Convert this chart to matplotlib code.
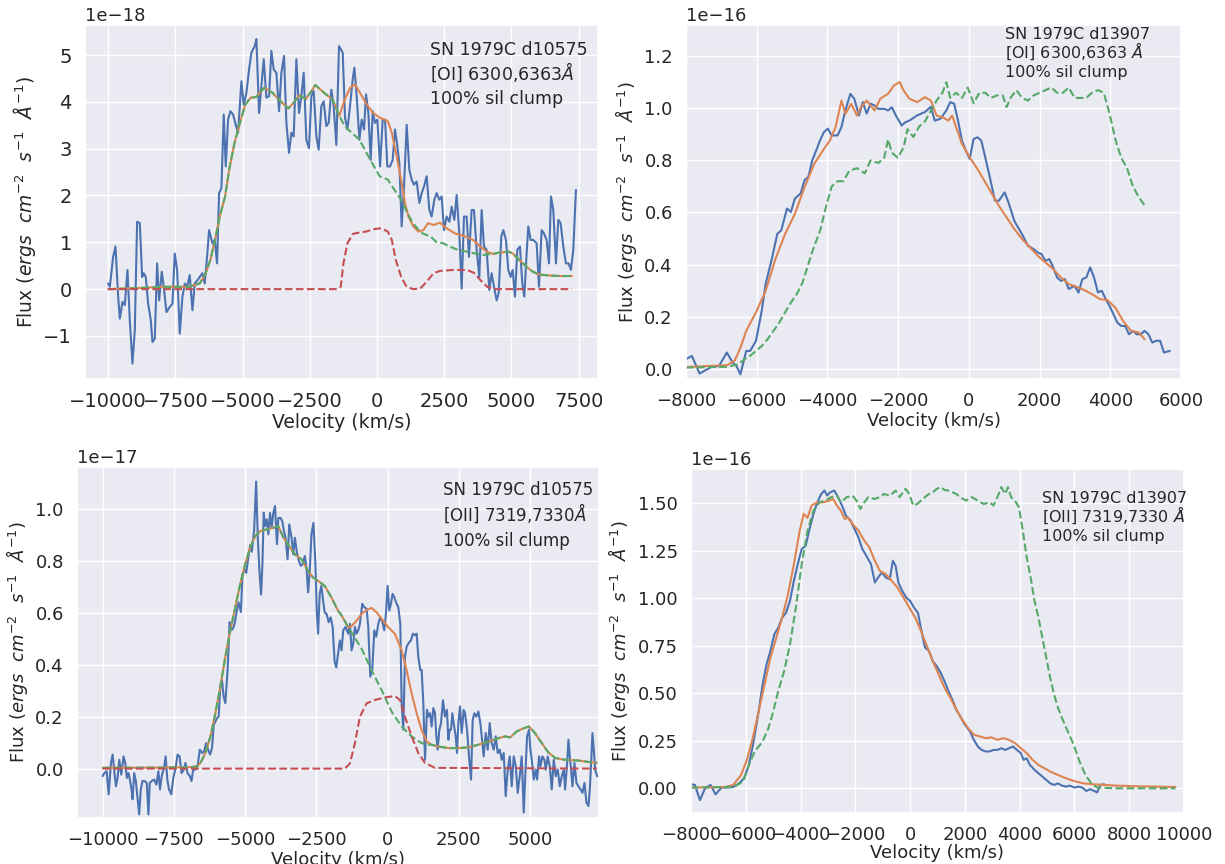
import numpy as np
import matplotlib
matplotlib.use('Agg')
import matplotlib.pyplot as plt
from matplotlib.ticker import MultipleLocator
import seaborn as sns

# ---- top left: [OI] d10575 (units 1e-18) ----
tl_obs_v = [-10000, -9938, -9814, -9727, -9628, -9566, -9467, -9380, -9281, -9195,
            -9096, -9009, -8922, -8823, -8736, -8674, -8600, -8513, -8414, -8352,
            -8265, -8179, -8104, -8005, -7918, -7832, -7708, -7609, -7522, -7435,
            -7336, -7237, -7150, -7064, -6965, -6865, -6779, -6679, -6593, -6494,
            -6407, -6320, -6246, -6122, -6035, -5949, -5874, -5787, -5701, -5626,
            -5540, -5453, -5354, -5255, -5168, -5044, -4957, -4858, -4759, -4672,
            -4548, -4486, -4387, -4301, -4214, -4115, -4016, -3929, -3842, -3743,
            -3644, -3557, -3458, -3371, -3272, -3186, -3099, -3000, -2901, -2814,
            -2727, -2628, -2529, -2442, -2355, -2256, -2170, -2071, -1984, -1885,
            -1798, -1699, -1612, -1513, -1414, -1276, -1189, -1102, -1004, -904,
            -842, -756, -656, -570, -483, -409, -322, -235, -161, -74,
            12, 112, 211, 298, 384, 483, 582, 669, 756, 830,
            917, 1004, 1103, 1202, 1289, 1375, 1475, 1574, 1661, 1747,
            1846, 1946, 2032, 2131, 2218, 2317, 2404, 2491, 2590, 2689,
            2776, 2875, 2962, 3061, 3148, 3234, 3333, 3420, 3519, 3606,
            3705, 3804, 3891, 3978, 4077, 4176, 4263, 4350, 4449, 4523,
            4622, 4697, 4796, 4882, 4969, 5044, 5131, 5217, 5316, 5403,
            5477, 5564, 5626, 5713, 5812, 5936, 6023, 6122, 6209, 6308,
            6395, 6469, 6556, 6655, 6742, 6828, 6927, 7026, 7125, 7212,
            7299, 7398]
tl_obs = [0.12, 0.05, 0.69, 0.91, -0.16, -0.63, -0.27, -0.34, 0.41, -0.66,
          -1.59, -0.88, 1.44, 1.41, 0.26, 0.34, 0.26, -0.31, -0.66, -1.13,
          -1.06, 0.55, -0.24, 0.37, -0.02, -0.49, -0.38, -0.31, 0.76, 0.41,
          -0.95, -0.16, 0.12, 0.05, 0.30, -0.45, 0.12, 0.19, 0.26, 0.34,
          0.12, 0.69, 1.26, 0.98, 1.05, 0.55, 2.05, 2.16, 3.73, 2.62,
          3.62, 3.80, 3.73, 3.51, 3.34, 4.44, 3.94, 4.19, 4.69, 5.05,
          5.19, 5.34, 3.76, 4.34, 4.91, 4.09, 4.12, 5.09, 4.69, 4.62,
          3.80, 4.62, 4.98, 3.55, 2.91, 3.34, 3.26, 4.91, 3.76, 4.12,
          4.62, 3.19, 3.01, 4.12, 4.23, 3.26, 2.98, 3.91, 4.01, 3.48,
          3.55, 4.26, 3.91, 3.08, 5.19, 5.05, 3.66, 3.41, 3.91, 4.48,
          4.73, 4.12, 3.19, 3.62, 3.41, 4.16, 3.76, 2.76, 3.80, 3.55,
          3.62, 2.62, 3.62, 3.62, 2.62, 2.62, 2.76, 3.41, 3.05, 2.69,
          1.34, 2.19, 3.51, 2.55, 2.34, 2.23, 2.30, 1.84, 2.05, 2.19,
          2.41, 1.69, 1.55, 1.91, 2.05, 1.91, 1.98, 1.26, 1.55, 1.44,
          1.76, 1.48, 2.01, 1.19, 0.01, 1.55, 1.55, 0.69, 1.69, 1.69,
          0.84, 0.26, 1.69, 0.91, 0.84, -0.02, 0.34, 0.05, -0.24, -0.09,
          1.12, 1.26, 1.05, 0.41, 0.26, 0.41, -0.16, 0.84, 0.91, 0.12,
          -0.16, 0.76, 1.34, 1.05, 1.05, 0.98, 0.05, 1.26, 1.19, 1.05,
          0.55, 1.98, 1.69, 0.55, 1.48, 1.41, 0.91, 0.55, 0.55, 0.41,
          0.84, 2.12]
tl_tot_v = [-10000, -9000, -8000, -7000, -6600, -6400, -6200, -6000, -5850, -5650,
            -5500, -5300, -5100, -4900, -4700, -4500, -4200, -3900, -3600, -3300,
            -3100, -2900, -2650, -2450, -2300, -2100, -1900, -1650, -1400,
            -1200, -1000, -820, -630, -380, -140, 110, 400, 550, 730,
            920, 1040, 1170, 1350, 1540, 1720, 1900, 2100, 2340, 2590,
            2900, 3210, 3580, 3830, 4080, 4330,
            4550, 4900, 5050, 5300, 5550, 5800, 6050, 6450, 6800, 7250]
tl_tot = [0.0, 0.02, 0.05, 0.05, 0.12, 0.3, 0.62, 1.12, 1.55, 1.98,
          2.55, 3.12, 3.55, 3.94, 4.09, 4.1, 4.3, 4.2, 4.02, 3.86,
          3.98, 4.14, 4.06, 4.22, 4.36, 4.26, 4.16, 4.05, 3.7,
          4.05, 4.3, 4.37, 4.19, 3.94, 3.76, 3.66, 3.59, 3.34, 2.84,
          2.26, 1.84, 1.55, 1.34, 1.23, 1.26, 1.41, 1.37, 1.42, 1.30,
          1.19, 1.14, 1.05, 0.91, 0.80, 0.75,
          0.78, 0.80, 0.76, 0.62, 0.48, 0.37, 0.31, 0.29, 0.28, 0.28]
tl_cont_v = [-10000, -9000, -8000, -7000, -6600, -6400, -6200, -6000, -5850, -5650,
             -5500, -5300, -5100, -4900, -4700, -4500, -4200, -3900, -3600, -3300,
             -3100, -2900, -2650, -2450, -2300, -2100, -1900, -1650, -1400, -1200,
             -1000, -650, -250, 100, 400, 650, 900, 1100, 1300, 1550,
             1700, 2000, 2200, 2450, 2700, 3000, 3350, 3650, 3950, 4250,
             4550, 4900, 5050, 5300, 5550, 5800, 6050, 6450, 6800, 7250]
tl_cont = [0.0, 0.02, 0.05, 0.05, 0.12, 0.3, 0.62, 1.12, 1.55, 1.98,
           2.55, 3.12, 3.55, 3.94, 4.09, 4.1, 4.3, 4.2, 4.02, 3.86,
           3.98, 4.14, 4.06, 4.22, 4.36, 4.26, 4.16, 4.05, 3.7, 3.48,
           3.37, 3.19, 2.76, 2.41, 2.34, 2.12, 1.91, 1.66, 1.44, 1.26,
           1.19, 1.12, 1.01, 0.98, 0.91, 0.84, 0.80, 0.76, 0.73, 0.75,
           0.78, 0.80, 0.76, 0.62, 0.48, 0.37, 0.31, 0.29, 0.28, 0.28]
tl_clump_v = [-10000, -1500, -1350, -1250, -1100, -900, -650, -400, -150, 150,
              400, 550, 700, 900, 1100, 1350, 1600, 1850, 2100, 2350,
              2850, 3350, 3600, 3850, 4100, 4350, 7250]
tl_clump = [0, 0, 0.05, 0.55, 0.98, 1.18, 1.21, 1.23, 1.28, 1.3,
            1.23, 1.05, 0.62, 0.26, 0.05, 0.0, 0.01, 0.16, 0.34, 0.39,
            0.41, 0.41, 0.35, 0.19, 0.05, 0.0, 0.0]

# ---- top right: [OI] d13907 (units 1e-16) ----
tr_obs_v = [-8000, -7835, -7615, -7450, -7286, -7066, -6846, -6681, -6571, -6461,
            -6297, -6187, -6022, -5857, -5747, -5582, -5417, -5307, -5143, -5033,
            -4923, -4758, -4648, -4538, -4428, -4318, -4208, -4099, -3989, -3879,
            -3714, -3604, -3494, -3351, -3241, -3110, -3000, -2890, -2780, -2670,
            -2560, -2395, -2285, -2176, -2066, -1901, -1791, -1681, -1461, -1241,
            -1076, -966, -802, -637, -527, -417, -307, -197, -87, 23,
            133, 243, 352, 462, 572, 737, 847, 1012, 1122, 1287,
            1506, 1671, 1836, 1946, 2056, 2166, 2276, 2386, 2495, 2605,
            2715, 2825, 2990, 3100, 3210, 3320, 3430, 3540, 3649, 3759,
            3869, 3979, 4089, 4199, 4309, 4419, 4529, 4639, 4749, 4859,
            4969, 5078, 5188, 5298, 5408, 5518, 5683]
tr_obs = [0.036, 0.049, -0.019, -0.006, 0.006, 0.010, 0.062, 0.023, 0.010, -0.022,
          0.068, 0.068, 0.106, 0.223, 0.326, 0.416, 0.518, 0.531, 0.615, 0.602,
          0.653, 0.673, 0.724, 0.737, 0.801, 0.838, 0.877, 0.909, 0.922, 0.896,
          0.896, 0.928, 0.992, 1.056, 1.037, 0.973, 1.024, 0.980, 1.018, 1.011,
          0.998, 0.998, 0.992, 1.004, 0.973, 0.934, 0.947, 0.953, 0.973, 0.986,
          1.006, 0.953, 0.960, 0.992, 1.024, 1.018, 0.953, 0.876, 0.838, 0.806,
          0.882, 0.889, 0.876, 0.812, 0.748, 0.645, 0.645, 0.677, 0.638, 0.567,
          0.516, 0.472, 0.459, 0.446, 0.440, 0.414, 0.421, 0.389, 0.350, 0.337,
          0.344, 0.306, 0.318, 0.292, 0.344, 0.350, 0.389, 0.350, 0.293, 0.299,
          0.267, 0.241, 0.209, 0.177, 0.164, 0.164, 0.132, 0.145, 0.132, 0.132,
          0.145, 0.132, 0.100, 0.107, 0.107, 0.062, 0.068]
tr_mod_v = [-8000, -7396, -6846, -6626, -6461, -6297, -6022, -5747, -5472, -5198,
            -4923, -4648, -4373, -4099, -3933, -3769, -3604, -3494, -3329, -3164,
            -3055, -2890, -2670, -2505, -2285, -2120, -1956, -1846, -1681, -1461,
            -1241, -1076, -912, -747, -582, -472, -362, -197, 23, 243,
            462, 682, 847, 1067, 1287, 1506, 1726, 1946, 2166, 2386,
            2605, 2825, 3045, 3265, 3484, 3704, 3924, 4144, 4364, 4584,
            4803, 4968]
tr_mod = [0.006, 0.010, 0.013, 0.030, 0.080, 0.145, 0.216, 0.299, 0.421, 0.517,
          0.594, 0.697, 0.787, 0.844, 0.876, 0.928, 1.030, 0.979, 1.017, 0.972,
          1.004, 1.030, 0.992, 1.037, 1.056, 1.088, 1.101, 1.069, 1.037, 1.024,
          1.043, 1.030, 0.972, 0.966, 0.953, 0.972, 0.928, 0.864, 0.812, 0.767,
          0.716, 0.665, 0.626, 0.581, 0.536, 0.498, 0.466, 0.434, 0.408, 0.382,
          0.350, 0.325, 0.314, 0.302, 0.286, 0.267, 0.263, 0.234, 0.183, 0.145,
          0.139, 0.113]
tr_alt_v = [-8000, -6846, -6516, -6351, -6187, -6022, -5857, -5692, -5527, -5362,
            -5198, -5033, -4868, -4703, -4428, -4208, -4044, -3879, -3714, -3549,
            -3384, -3164, -2945, -2780, -2560, -2395, -2285, -2176, -2011, -1846,
            -1736, -1571, -1406, -1241, -1076, -912, -747, -637, -527, -362,
            -197, -32, 133, 298, 462, 627, 792, 957, 1067, 1177,
            1342, 1506, 1671, 1836, 2001, 2166, 2331, 2495, 2660, 2825,
            2990, 3155, 3320, 3484, 3649, 3814, 3979, 4144, 4309, 4474,
            4639, 4803, 5001]
tr_alt = [0.004, 0.007, 0.017, 0.036, 0.049, 0.068, 0.087, 0.113, 0.145, 0.177,
          0.216, 0.254, 0.286, 0.331, 0.45, 0.53, 0.62, 0.70, 0.72, 0.72,
          0.76, 0.77, 0.75, 0.80, 0.79, 0.81, 0.88, 0.83, 0.81, 0.85,
          0.92, 0.89, 0.93, 0.95, 0.99, 1.03, 1.06, 1.10, 1.04, 1.06,
          1.04, 1.08, 1.02, 1.06, 1.06, 1.04, 1.05, 1.05, 1.005, 1.04,
          1.07, 1.04, 1.03, 1.05, 1.06, 1.07, 1.08, 1.06, 1.06, 1.08,
          1.04, 1.04, 1.04, 1.06, 1.07, 1.06, 0.98, 0.88, 0.81, 0.77,
          0.70, 0.66, 0.62]

# ---- bottom left: [OII] d10575 (units 1e-17) ----
bl_obs_v = [-10000, -9942, -9860, -9791, -9709, -9651, -9593, -9535, -9477, -9419,
            -9349, -9267, -9209, -9151, -9093, -9046, -8988, -8953, -8895, -8837,
            -8779, -8721, -8663, -8604, -8523, -8453, -8395, -8349, -8279, -8197,
            -8116, -8046, -7988, -7930, -7849, -7790, -7732, -7674, -7593, -7523,
            -7441, -7372, -7302, -7232, -7151, -7093, -7023, -6941, -6883, -6825,
            -6744, -6662, -6592, -6511, -6441, -6372, -6302, -6232, -6162, -6104,
            -6046, -5988, -5930, -5872, -5814, -5756, -5697, -5616, -5546, -5488,
            -5430, -5372, -5290, -5232, -5151, -5093, -5023, -4964, -4883, -4825,
            -4767, -4685, -4615, -4557, -4499, -4441, -4394, -4348, -4301, -4243,
            -4185, -4127, -4069, -4011, -3953, -3883, -3836, -3755, -3697, -3639,
            -3581, -3511, -3452, -3371, -3313, -3255, -3185, -3115, -3046, -2987,
            -2906, -2848, -2790, -2732, -2673, -2604, -2534, -2487, -2441, -2383,
            -2324, -2266, -2208, -2138, -2069, -1999, -1929, -1859, -1801, -1757,
            -1675, -1616, -1557, -1475, -1382, -1323, -1265, -1206, -1148, -1089,
            -1030, -972, -890, -820, -738, -679, -609, -539, -468, -398,
            -328, -258, -187, -117, -59, 0, 59, 117, 176, 234,
            316, 375, 445, 492, 550, 609, 667, 726, 820, 890,
            960, 1019, 1077, 1148, 1194, 1253, 1312, 1382, 1429, 1487,
            1546, 1604, 1663, 1710, 1757, 1815, 1874, 1944, 2014, 2084,
            2131, 2178, 2225, 2272, 2319, 2389, 2436, 2483, 2541, 2600,
            2670, 2717, 2787, 2857, 2928, 2986, 3045, 3115, 3185, 3255,
            3302, 3372, 3442, 3513, 3583, 3653, 3724, 3794, 3864, 3934,
            4005, 4075, 4145, 4216, 4286, 4356, 4427, 4497, 4567, 4637,
            4707, 4778, 4825, 4895, 4965, 5012, 5059, 5129, 5199, 5246,
            5316, 5363, 5433, 5503, 5551, 5621, 5691, 5761, 5831, 5902,
            5972, 6042, 6112, 6183, 6230, 6300, 6347, 6394, 6441, 6487,
            6558, 6628, 6698, 6769, 6839, 6909, 6979, 7050, 7096, 7143,
            7190, 7237, 7284, 7354, 7420]
bl_obs = [-0.029, -0.017, -0.010, -0.099, 0.022, 0.054, -0.010, -0.068, -0.036, 0.034,
          -0.023, 0.047, 0.022, -0.036, -0.017, -0.042, -0.080, -0.118, -0.017, -0.048,
          -0.112, -0.176, -0.080, -0.048, -0.048, -0.055, -0.176, -0.055, -0.048, -0.042,
          -0.061, -0.010, -0.080, -0.029, 0.003, 0.047, -0.042, -0.080, -0.099, -0.036,
          0.003, 0.054, 0.047, -0.017, -0.004, 0.022, -0.017, -0.029, -0.048, -0.004,
          -0.004, 0.015, 0.073, 0.060, 0.066, 0.098, 0.073, 0.054, 0.080, 0.168,
          0.181, 0.194, 0.200, 0.315, 0.341, 0.278, 0.252, 0.379, 0.563, 0.532,
          0.538, 0.557, 0.608, 0.640, 0.602, 0.746, 0.766, 0.753, 0.815, 0.859,
          0.834, 0.917, 1.104, 0.888, 0.761, 0.670, 0.786, 0.984, 0.933, 0.959,
          0.901, 0.984, 0.927, 0.984, 1.010, 0.863, 0.964, 0.964, 0.951, 0.913,
          0.888, 0.805, 0.939, 0.888, 0.824, 0.888, 0.831, 0.799, 0.780, 0.786,
          0.818, 0.773, 0.678, 0.761, 0.901, 0.945, 0.787, 0.608, 0.519, 0.672,
          0.704, 0.647, 0.601, 0.594, 0.563, 0.582, 0.545, 0.410, 0.389, 0.427,
          0.493, 0.455, 0.532, 0.545, 0.519, 0.557, 0.455, 0.481, 0.545, 0.519,
          0.532, 0.557, 0.634, 0.621, 0.615, 0.545, 0.354, 0.379, 0.532, 0.507,
          0.557, 0.583, 0.564, 0.532, 0.596, 0.703, 0.608, 0.634, 0.672, 0.659,
          0.634, 0.621, 0.557, 0.252, 0.150, 0.429, 0.468, 0.481, 0.494, 0.519,
          0.513, 0.519, 0.430, 0.379, 0.379, 0.252, 0.034, 0.226, 0.200, 0.213,
          0.162, 0.233, 0.213, 0.124, 0.073, 0.149, 0.175, 0.263, 0.200, 0.226,
          0.111, 0.150, 0.150, 0.213, 0.175, 0.124, 0.060, 0.175, 0.239, 0.137,
          0.226, 0.213, 0.150, 0.047, -0.042, 0.187, 0.213, 0.200, 0.220, 0.175,
          0.124, 0.047, 0.137, 0.073, 0.175, 0.098, 0.073, 0.124, 0.060, 0.073,
          0.034, 0.060, -0.106, -0.004, 0.047, -0.068, 0.047, 0.009, -0.093, -0.029,
          0.047, -0.169, -0.042, 0.124, 0.150, 0.073, 0.034, -0.042, -0.004, -0.042,
          0.047, 0.009, 0.047, 0.034, -0.004, 0.047, 0.009, -0.080, 0.034, -0.029,
          -0.004, -0.068, -0.029, -0.004, -0.080, 0.022, 0.111, 0.047, -0.004, -0.068,
          0.022, -0.055, -0.068, -0.080, -0.093, -0.055, -0.131, -0.144, -0.080, 0.022,
          0.137, 0.073, -0.004, -0.029, -0.030]
bl_tot_v = [-10000, -8000, -6900, -6686, -6569, -6395, -6220, -6046, -5872, -5697,
            -5523, -5348, -5174, -5000, -4825, -4651, -4476, -4243, -4011, -3836,
            -3662, -3487, -3255, -3022, -2790, -2615, -2441, -2208, -1976, -1743,
            -1616, -1382, -1265, -1089, -913, -738, -562, -386, -211, 23,
            258, 492, 667, 843, 1019, 1194, 1370, 1546, 1780, 2131,
            2483, 2834, 3185, 3536, 3888, 4122, 4298, 4532, 4766, 4965,
            5176, 5410, 5644, 5878, 6230, 6698, 7167, 7342]
bl_tot = [0.003, 0.004, 0.006, 0.009, 0.022, 0.06, 0.124, 0.213, 0.315, 0.429,
          0.531, 0.62, 0.71, 0.786, 0.85, 0.894, 0.913, 0.92, 0.926, 0.932,
          0.89, 0.86, 0.824, 0.805, 0.76, 0.735, 0.722, 0.703, 0.659, 0.608,
          0.589, 0.544, 0.548, 0.569, 0.595, 0.61, 0.618, 0.601, 0.576, 0.544,
          0.518, 0.455, 0.378, 0.289, 0.213, 0.149, 0.104, 0.092, 0.085, 0.079,
          0.079, 0.082, 0.092, 0.104, 0.117, 0.124, 0.12, 0.143, 0.155, 0.162,
          0.136, 0.098, 0.062, 0.041, 0.034, 0.031, 0.024, 0.022]
bl_cont_v = [-10000, -8000, -6900, -6686, -6569, -6395, -6220, -6046, -5872, -5697,
             -5523, -5348, -5174, -5000, -4825, -4651, -4476, -4243, -4011, -3836,
             -3662, -3487, -3255, -3022, -2790, -2615, -2441, -2208, -1976, -1743,
             -1616, -1382, -913, -562, -211, 141, 492, 843, 1194, 1429,
             1546, 1780, 2131, 2483, 2834, 3185, 3536, 3888, 4122, 4298,
             4532, 4766, 4965, 5176, 5410, 5644, 5878, 6230, 6698, 7167,
             7342]
bl_cont = [0.003, 0.004, 0.006, 0.009, 0.022, 0.06, 0.124, 0.213, 0.315, 0.429,
           0.531, 0.62, 0.71, 0.786, 0.85, 0.894, 0.913, 0.92, 0.926, 0.932,
           0.89, 0.86, 0.824, 0.805, 0.76, 0.735, 0.722, 0.703, 0.659, 0.608,
           0.589, 0.544, 0.461, 0.378, 0.302, 0.219, 0.162, 0.124, 0.098, 0.092,
           0.092, 0.085, 0.079, 0.079, 0.082, 0.092, 0.104, 0.117, 0.124, 0.12,
           0.143, 0.155, 0.162, 0.136, 0.098, 0.062, 0.041, 0.034, 0.031, 0.024,
           0.022]
bl_clump_v = [-10000, -1499, -1323, -1148, -972, -738, -445, -94, 258, 433,
              609, 843, 1077, 1312, 1663, 7342]
bl_clump = [0, 0, 0.02, 0.098, 0.2, 0.251, 0.264, 0.274, 0.279, 0.264,
            0.2, 0.124, 0.06, 0.022, 0.003, 0.0]

# ---- bottom right: [OII] d13907 (units 1e-16) ----
br_obs_v = [-8000, -7860, -7674, -7488, -7288, -7102, -6888, -6673, -6459, -6245,
            -6059, -5887, -5716, -5530, -5387, -5244, -5102, -4959, -4816, -4673,
            -4530, -4387, -4244, -4101, -3958, -3815, -3673, -3530, -3387, -3244,
            -3130, -3029, -2915, -2772, -2629, -2486, -2344, -2172, -2029, -1886,
            -1743, -1600, -1429, -1286, -1172, -1029, -886, -743, -629, -529,
            -429, -286, -143, 0, 143, 286, 400, 543, 686, 829,
            972, 1115, 1258, 1400, 1543, 1686, 1829, 2001, 2186, 2329,
            2472, 2615, 2758, 2901, 3044, 3187, 3330, 3473, 3615, 3758,
            3901, 4044, 4144, 4258, 4373, 4544, 4687, 4830, 4973, 5116,
            5259, 5402, 5545, 5687, 5830, 6002, 6145, 6288, 6431, 6573,
            6716, 6831, 6945, 7088]
br_obs = [0.021, 0.018, -0.062, 0.000, 0.018, -0.032, 0.004, 0.004, 0.007, 0.026,
          0.053, 0.123, 0.246, 0.405, 0.546, 0.651, 0.722, 0.810, 0.845, 0.898,
          0.924, 0.986, 1.092, 1.180, 1.259, 1.276, 1.364, 1.444, 1.505, 1.549,
          1.567, 1.541, 1.558, 1.567, 1.532, 1.488, 1.435, 1.408, 1.364, 1.320,
          1.259, 1.224, 1.180, 1.083, 1.109, 1.136, 1.109, 1.100, 1.197, 1.171,
          1.083, 1.039, 1.004, 0.986, 0.951, 0.924, 0.838, 0.741, 0.724, 0.669,
          0.643, 0.608, 0.563, 0.511, 0.467, 0.414, 0.379, 0.335, 0.299, 0.255,
          0.220, 0.202, 0.194, 0.194, 0.202, 0.202, 0.211, 0.202, 0.211, 0.220,
          0.202, 0.185, 0.150, 0.158, 0.123, 0.097, 0.079, 0.062, 0.044, 0.026,
          0.018, 0.026, 0.014, 0.009, 0.014, 0.004, 0.009, 0.004, -0.014, -0.004,
          -0.014, -0.021, 0.018, 0.021]
br_mod_v = [-8000, -6745, -6459, -6173, -5959, -5745, -5530, -5316, -5102, -4887,
            -4673, -4458, -4244, -4030, -3887, -3744, -3601, -3387, -3172, -2958,
            -2815, -2672, -2529, -2386, -2286, -2101, -1886, -1672, -1486, -1315,
            -1100, -886, -672, -457, -243, -29, 186, 400, 614, 829,
            1043, 1258, 1472, 1686, 1901, 2115, 2329, 2544, 2758, 2972,
            3187, 3401, 3615, 3830, 4044, 4258, 4473, 4687, 4902, 5116,
            5402, 5687, 5973, 6330, 6688, 7116, 7545, 8260, 8974, 9689]
br_mod = [0.004, 0.007, 0.018, 0.070, 0.150, 0.264, 0.405, 0.546, 0.687, 0.792,
          0.898, 1.021, 1.180, 1.356, 1.444, 1.423, 1.488, 1.505, 1.505, 1.514,
          1.523, 1.488, 1.461, 1.417, 1.426, 1.391, 1.356, 1.303, 1.268, 1.206,
          1.144, 1.127, 1.092, 1.056, 1.004, 0.951, 0.898, 0.827, 0.748, 0.669,
          0.599, 0.528, 0.475, 0.414, 0.361, 0.317, 0.282, 0.273, 0.264, 0.268,
          0.255, 0.264, 0.255, 0.238, 0.211, 0.185, 0.150, 0.123, 0.106, 0.088,
          0.070, 0.053, 0.039, 0.026, 0.021, 0.018, 0.014, 0.011, 0.009, 0.007]
br_alt_v = [-8000, -6459, -6102, -5887, -5673, -5387, -5173, -5030, -4816, -4601,
            -4387, -4173, -3958, -3744, -3530, -3315, -3101, -2887, -2672, -2529,
            -2315, -2101, -1958, -1815, -1672, -1529, -1315, -1100, -957, -743,
            -529, -386, -171, -29, 114, 257, 400, 543, 686, 829,
            972, 1115, 1258, 1400, 1543, 1686, 1829, 2043, 2258, 2472,
            2686, 2901, 3044, 3187, 3330, 3473, 3573, 3687, 3830, 3973,
            4115, 4258, 4401, 4544, 4687, 4830, 4973, 5116, 5259, 5402,
            5545, 5759, 5973, 6188, 6402, 6616, 6831, 7545, 9689]
br_alt = [0.004, 0.007, 0.035, 0.123, 0.194, 0.246, 0.317, 0.387, 0.511, 0.616,
          0.757, 0.951, 1.180, 1.356, 1.461, 1.505, 1.514, 1.532, 1.540, 1.505,
          1.532, 1.540, 1.514, 1.470, 1.505, 1.532, 1.523, 1.532, 1.549, 1.540,
          1.567, 1.532, 1.576, 1.549, 1.488, 1.496, 1.514, 1.532, 1.549, 1.558,
          1.576, 1.585, 1.570, 1.567, 1.558, 1.549, 1.532, 1.514, 1.532, 1.514,
          1.496, 1.505, 1.488, 1.532, 1.585, 1.549, 1.585, 1.532, 1.514, 1.479,
          1.356, 1.215, 1.109, 0.986, 0.898, 0.792, 0.687, 0.581, 0.493, 0.423,
          0.370, 0.299, 0.229, 0.141, 0.070, 0.026, 0.004, 0.000, 0.000]

tl_label = ['SN 1979C d10575', r'[OI] 6300,6363$\AA$', '100% sil clump']
tr_label = ['SN 1979C d13907', r'[OI] 6300,6363 $\AA$', '100% sil clump']
bl_label = ['SN 1979C d10575', r'[OII] 7319,7330$\AA$', '100% sil clump']
br_label = ['SN 1979C d13907', r'[OII] 7319,7330 $\AA$', '100% sil clump']

YLABEL = r'Flux ($ergs\ \ cm^{-2}\ \ s^{-1}\ \ \AA^{-1}$)'

sns.set_theme(style='darkgrid')
plt.rcParams['font.family'] = ['DejaVu Sans']
plt.rcParams['xtick.labelsize'] = 13
plt.rcParams['ytick.labelsize'] = 13
plt.rcParams['axes.labelsize'] = 13
blue, orange, green, red = sns.color_palette('deep')[:4]


def draw_panel(ax, scale, obs, total, cont, clump=None):
    ax.plot(obs[0], np.array(obs[1]) * scale, color=blue, lw=1.5)
    ax.plot(total[0], np.array(total[1]) * scale, color=orange, lw=1.5)
    ax.plot(cont[0], np.array(cont[1]) * scale, color=green, lw=1.5, ls='--')
    if clump is not None:
        ax.plot(clump[0], np.array(clump[1]) * scale, color=red, lw=1.5, ls='--')
    ax.set_xlabel('Velocity (km/s)', labelpad=1)
    ax.set_ylabel(YLABEL)


def put_label(ax, lines, x, ys, size):
    # one text per line, on baselines, so the mathtext line keeps even spacing
    for line, y in zip(lines, ys):
        ax.text(x, y, line, transform=ax.transAxes, ha='left', va='baseline',
                fontsize=size, color='.15')


fig = plt.figure(figsize=(12.25, 8.64), dpi=100)

ax1 = fig.add_axes([0.0694, 0.5613, 0.4188, 0.4097])
draw_panel(ax1, 1e-18, (tl_obs_v, tl_obs), (tl_tot_v, tl_tot), (tl_cont_v, tl_cont),
           (tl_clump_v, tl_clump))
ax1.set_xlim(-10860, 8220)
ax1.set_ylim(-1.92e-18, 5.64e-18)
ax1.xaxis.set_major_locator(MultipleLocator(2500))
ax1.yaxis.set_major_locator(MultipleLocator(1e-18))
ax1.tick_params(labelsize=14)
ax1.xaxis.label.set_size(13.5)
ax1.yaxis.label.set_size(13.5)
put_label(ax1, tl_label, 0.672, [0.914, 0.846, 0.778], 12.5)

ax2 = fig.add_axes([0.560, 0.5613, 0.4041, 0.4097])
draw_panel(ax2, 1e-16, (tr_obs_v, tr_obs), (tr_mod_v, tr_mod), (tr_alt_v, tr_alt))
ax2.set_xlim(-8000, 6000)
ax2.set_ylim(-0.04e-16, 1.32e-16)
ax2.xaxis.set_major_locator(MultipleLocator(2000))
ax2.yaxis.set_major_locator(MultipleLocator(0.2e-16))
put_label(ax2, tr_label, 0.644, [0.960, 0.907, 0.853], 11.5)

ax3 = fig.add_axes([0.0629, 0.0532, 0.4261, 0.4063])
draw_panel(ax3, 1e-17, (bl_obs_v, bl_obs), (bl_tot_v, bl_tot), (bl_cont_v, bl_cont),
           (bl_clump_v, bl_clump))
ax3.set_xlim(-10900, 7420)
ax3.set_ylim(-0.19e-17, 1.16e-17)
ax3.xaxis.set_major_locator(MultipleLocator(2500))
ax3.yaxis.set_major_locator(MultipleLocator(0.2e-17))
put_label(ax3, bl_label, 0.701, [0.920, 0.846, 0.775], 12)

ax4 = fig.add_axes([0.5641, 0.0590, 0.4024, 0.3981])
draw_panel(ax4, 1e-16, (br_obs_v, br_obs), (br_mod_v, br_mod), (br_alt_v, br_alt))
ax4.set_xlim(-8000, 10000)
ax4.set_ylim(-0.13e-16, 1.68e-16)
ax4.xaxis.set_major_locator(MultipleLocator(2000))
ax4.yaxis.set_major_locator(MultipleLocator(0.25e-16))
ax4.xaxis.labelpad = 0
put_label(ax4, br_label, 0.712, [0.901, 0.846, 0.791], 11.5)

fig.savefig('out.png', dpi=100)
